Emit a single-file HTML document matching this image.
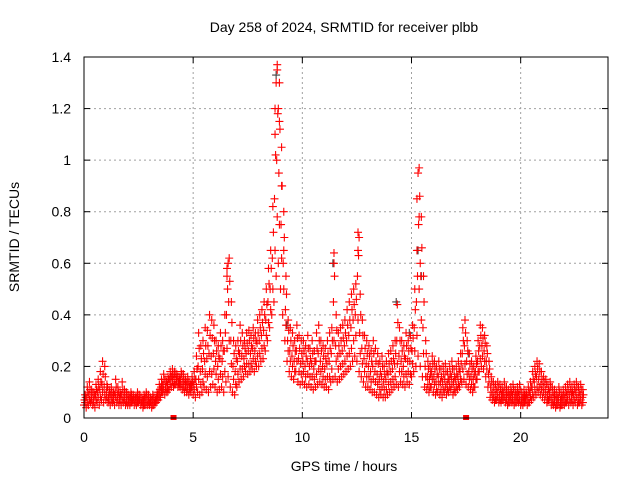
<!DOCTYPE html>
<html><head><meta charset="utf-8">
<style>
body{margin:0;background:#fff;}
svg text{font-family:"Liberation Sans",sans-serif;font-size:14px;fill:#000;}
</style></head>
<body>
<svg id="chart" width="640" height="480" xmlns="http://www.w3.org/2000/svg">
<rect width="640" height="480" fill="#fff"/>
<g id="grid"></g>
<g id="marks"></g>
<rect x="84" y="57" width="524" height="361" fill="none" stroke="#000" stroke-width="1"/>
<g id="ticks"></g>
<text x="344" y="32" text-anchor="middle">Day 258 of 2024, SRMTID for receiver plbb</text>
<text x="344" y="471" text-anchor="middle">GPS time / hours</text>
<text x="19" y="237" text-anchor="middle" transform="rotate(-90 19 237)">SRMTID / TECUs</text>
</svg>
<script>
const xTicks=[0,5,10,15,20];
const yTicks=[0,0.2,0.4,0.6,0.8,1,1.2,1.4];
const yTickLabels=["0","0.2","0.4","0.6","0.8","1","1.2","1.4"];
const t0=0, dt=0.1;
const lo=[.05,.04,.05,.06,.05,.04,.06,.05,.07,.06,
.07,.06,.05,.06,.05,.06,.05,.05,.06,.05,
.05,.05,.06,.05,.05,.06,.05,.04,.05,.05,
.05,.04,.05,.06,.07,.08,.10,.09,.10,.11,
.12,.12,.13,.12,.12,.11,.10,.10,.09,.10,
.09,.08,.10,.09,.10,.12,.11,.10,.12,.13,
.12,.10,.11,.12,.10,.14,.16,.12,.10,.09,
.12,.14,.15,.16,.18,.17,.18,.19,.18,.20,
.20,.22,.23,.26,.30,.35,.40,.45,.55,.60,
.50,.40,.30,.22,.18,.16,.15,.18,.14,.13,
.14,.13,.12,.13,.12,.11,.12,.13,.14,.13,
.12,.12,.11,.14,.15,.16,.14,.15,.16,.17,
.18,.19,.20,.22,.24,.22,.18,.16,.14,.12,
.12,.11,.10,.10,.09,.08,.09,.08,.08,.09,
.10,.11,.12,.13,.12,.14,.13,.12,.14,.13,
.16,.18,.20,.24,.20,.16,.12,.11,.10,.12,
.10,.09,.10,.09,.08,.10,.09,.10,.11,.09,
.10,.11,.12,.14,.15,.13,.12,.11,.10,.12,
.15,.18,.20,.19,.16,.12,.08,.07,.06,.07,
.06,.06,.07,.06,.05,.06,.06,.05,.06,.06,
.05,.05,.06,.05,.06,.07,.08,.09,.10,.09,
.08,.07,.06,.07,.05,.05,.04,.05,.04,.05,
.05,.06,.05,.06,.05,.06,.05,.06,.05];
const q1=[.06,.06,.07,.07,.06,.07,.08,.08,.10,.09,
.08,.07,.07,.07,.08,.07,.07,.07,.07,.06,
.06,.06,.07,.06,.06,.07,.06,.05,.06,.06,
.06,.05,.06,.07,.08,.10,.11,.11,.11,.13,
.14,.13,.14,.13,.13,.12,.12,.11,.11,.12,
.11,.12,.15,.13,.14,.17,.16,.18,.17,.19,
.17,.15,.17,.16,.18,.27,.30,.21,.15,.13,
.17,.19,.19,.20,.21,.21,.21,.23,.22,.24,
.25,.27,.28,.32,.37,.42,.50,.65,.78,.75,
.62,.50,.36,.26,.22,.20,.18,.22,.18,.17,
.18,.16,.17,.16,.16,.15,.17,.19,.18,.16,
.15,.16,.16,.19,.30,.22,.19,.20,.21,.22,
.24,.25,.27,.30,.32,.38,.25,.21,.18,.16,
.16,.14,.15,.14,.13,.11,.12,.11,.11,.13,
.14,.15,.16,.21,.18,.18,.16,.17,.18,.17,
.21,.26,.32,.50,.38,.25,.16,.13,.12,.15,
.13,.11,.13,.11,.11,.12,.11,.12,.13,.11,
.12,.13,.15,.19,.21,.17,.15,.13,.12,.15,
.18,.23,.24,.22,.19,.14,.10,.08,.07,.08,
.07,.07,.08,.07,.06,.07,.07,.06,.07,.07,
.06,.06,.07,.06,.08,.09,.11,.12,.12,.11,
.10,.09,.07,.08,.06,.06,.05,.06,.05,.06,
.06,.07,.07,.07,.07,.08,.06,.07,.06];
const mid=[.07,.08,.09,.08,.07,.09,.10,.11,.13,.12,
.10,.08,.09,.08,.10,.09,.08,.09,.08,.07,
.07,.08,.07,.07,.08,.07,.06,.07,.08,.07,
.06,.07,.06,.08,.10,.12,.13,.12,.13,.15,
.16,.15,.15,.14,.15,.14,.13,.13,.12,.13,
.13,.15,.20,.18,.19,.22,.23,.25,.24,.25,
.22,.20,.23,.22,.26,.40,.45,.30,.20,.18,
.22,.25,.24,.23,.25,.26,.25,.27,.26,.29,
.30,.32,.34,.38,.45,.50,.62,.85,1.00,.95,
.75,.60,.42,.30,.26,.24,.22,.26,.23,.21,
.22,.20,.22,.20,.21,.19,.22,.25,.22,.20,
.19,.21,.22,.25,.45,.28,.24,.25,.26,.28,
.30,.32,.35,.38,.40,.55,.33,.27,.23,.21,
.20,.18,.20,.18,.17,.15,.16,.14,.15,.17,
.18,.19,.21,.30,.24,.22,.20,.23,.22,.22,
.26,.35,.45,.75,.55,.35,.20,.16,.15,.18,
.16,.14,.16,.14,.14,.15,.13,.15,.16,.14,
.15,.16,.18,.25,.28,.22,.18,.16,.15,.18,
.22,.28,.28,.26,.22,.17,.12,.10,.09,.10,
.09,.09,.10,.09,.08,.09,.09,.08,.09,.09,
.07,.08,.08,.08,.10,.12,.14,.16,.15,.13,
.12,.11,.09,.10,.08,.08,.07,.08,.07,.08,
.08,.09,.09,.09,.09,.10,.08,.09,.08];
const q3=[.08,.10,.11,.10,.09,.11,.12,.14,.17,.16,
.12,.10,.10,.09,.12,.10,.09,.11,.10,.09,
.08,.09,.08,.08,.09,.08,.07,.08,.09,.08,
.07,.08,.07,.09,.11,.13,.15,.14,.15,.16,
.17,.17,.16,.15,.17,.15,.14,.14,.13,.14,
.15,.19,.27,.23,.25,.28,.28,.32,.31,.30,
.26,.24,.28,.26,.33,.50,.53,.37,.25,.23,
.26,.30,.28,.27,.29,.30,.28,.31,.30,.33,
.35,.37,.40,.44,.52,.58,.72,1.02,1.18,1.12,
.90,.70,.48,.34,.30,.28,.26,.31,.27,.25,
.26,.24,.27,.23,.25,.22,.27,.30,.26,.24,
.23,.25,.27,.30,.55,.34,.28,.30,.31,.33,
.36,.38,.42,.44,.46,.63,.40,.32,.27,.25,
.24,.22,.25,.22,.21,.18,.20,.17,.18,.21,
.22,.23,.25,.37,.30,.26,.24,.28,.26,.27,
.31,.42,.55,.86,.66,.45,.25,.19,.17,.21,
.19,.17,.19,.16,.17,.18,.15,.17,.19,.16,
.17,.19,.21,.30,.33,.26,.21,.19,.17,.21,
.26,.32,.31,.29,.25,.19,.14,.12,.11,.12,
.11,.10,.12,.10,.09,.10,.11,.09,.10,.11,
.08,.09,.09,.10,.12,.15,.17,.19,.18,.15,
.14,.13,.11,.12,.10,.09,.08,.10,.08,.09,
.10,.11,.11,.10,.11,.12,.10,.11,.09];
const hi=[.09,.12,.14,.11,.10,.13,.15,.18,.22,.20,
.13,.11,.12,.10,.15,.12,.10,.14,.11,.10,
.09,.10,.09,.08,.10,.09,.08,.09,.10,.09,
.08,.09,.08,.10,.13,.15,.17,.15,.16,.18,
.19,.18,.17,.16,.18,.17,.15,.16,.14,.16,
.18,.24,.33,.28,.30,.35,.34,.40,.38,.36,
.30,.28,.33,.30,.40,.58,.62,.45,.30,.28,
.30,.36,.33,.30,.33,.34,.32,.35,.33,.38,
.40,.42,.45,.50,.58,.65,.82,1.20,1.35,1.30,
1.05,.80,.55,.38,.35,.33,.30,.36,.32,.30,
.30,.28,.32,.27,.30,.26,.33,.36,.30,.28,
.27,.30,.33,.35,.64,.40,.33,.35,.36,.38,
.42,.45,.48,.50,.52,.72,.48,.38,.32,.30,
.28,.26,.30,.27,.25,.22,.24,.20,.22,.25,
.26,.28,.30,.44,.35,.30,.28,.33,.30,.32,
.36,.50,.65,.97,.78,.55,.30,.22,.20,.24,
.22,.20,.22,.19,.20,.21,.18,.20,.22,.19,
.20,.22,.25,.35,.38,.30,.25,.22,.20,.24,
.30,.36,.35,.32,.28,.22,.16,.14,.13,.14,
.13,.12,.14,.12,.11,.12,.13,.11,.12,.13,
.10,.11,.10,.12,.14,.18,.20,.22,.21,.18,
.16,.15,.13,.14,.12,.11,.10,.12,.10,.11,
.12,.13,.14,.12,.13,.14,.12,.13,.11];
const spikeT=[6.55,6.6,8.75,8.8,8.85,8.9,8.95,9.05,9.15,11.45,12.55,12.6,15.25,15.3,15.35,15.4];
const spikeV=[0.55,0.6,1.1,1.3,1.37,1.2,1.15,0.9,0.65,0.6,0.65,0.7,0.85,0.95,0.78,0.6];
const greyT=[8.8,9.3,11.4,14.3,14.9,15.3,15.45,17.6];
const greyV=[1.33,0.36,0.6,0.45,0.33,0.65,0.55,0.25];
const sqT=[4.1,17.5];
const sqV=[0,0];

const X=h=>84+h*(524/24);
const Y=v=>418-v*(361/1.4);
const NS="http://www.w3.org/2000/svg";
const grid=document.getElementById('grid'),ticks=document.getElementById('ticks'),marks=document.getElementById('marks');
function mk(tag,attrs,parent){const e=document.createElementNS(NS,tag);for(const k in attrs)e.setAttribute(k,attrs[k]);parent.appendChild(e);return e;}
xTicks.forEach((t,i)=>{
  const x=X(t);
  if(i>0){const g=mk('line',{x1:x,y1:57,x2:x,y2:418,stroke:'#a0a0a0','stroke-dasharray':'2,3'},grid);
  
  }
  mk('line',{x1:x,y1:418,x2:x,y2:412,stroke:'#000'},ticks);
  mk('line',{x1:x,y1:57,x2:x,y2:63,stroke:'#000'},ticks);
  const l=mk('text',{x:x,y:442,'text-anchor':'middle'},ticks);l.textContent=t;
  
  
});
yTicks.forEach((v,i)=>{
  const y=Y(v);
  if(i>0&&i<yTicks.length-1){const g=mk('line',{x1:84,y1:y,x2:608,y2:y,stroke:'#a0a0a0','stroke-dasharray':'2,3'},grid);
  
  }
  mk('line',{x1:84,y1:y,x2:90,y2:y,stroke:'#000'},ticks);
  mk('line',{x1:608,y1:y,x2:602,y2:y,stroke:'#000'},ticks);
  const l=mk('text',{x:71,y:y+5,'text-anchor':'end'},ticks);l.textContent=yTickLabels[i];
  
  
});
function plus(h,v,color){
  const x=X(h),y=Y(v);
  const p=mk('path',{d:`M${x-4},${y}h8M${x},${y-4}v8`,stroke:color,'stroke-width':1.1,fill:'none'},marks);
  
  
}
greyT.forEach((t,i)=>plus(t,greyV[i],'#404040'));
lo.forEach((v,i)=>plus(t0+i*dt,v,'#ff0000'));
q1.forEach((v,i)=>plus(t0+i*dt+0.05,v,'#ff0000'));
mid.forEach((v,i)=>plus(t0+i*dt+0.025,v,'#ff0000'));
q3.forEach((v,i)=>plus(t0+i*dt+0.075,v,'#ff0000'));
hi.forEach((v,i)=>plus(t0+i*dt+0.05,v,'#ff0000'));
spikeT.forEach((t,i)=>plus(t,spikeV[i],'#ff0000'));
sqT.forEach((t,i)=>{const r=mk('rect',{x:X(t)-3,y:Y(sqV[i])-3,width:6,height:5,fill:'#ff0000'},marks);
  
  });
</script>
</body></html>
